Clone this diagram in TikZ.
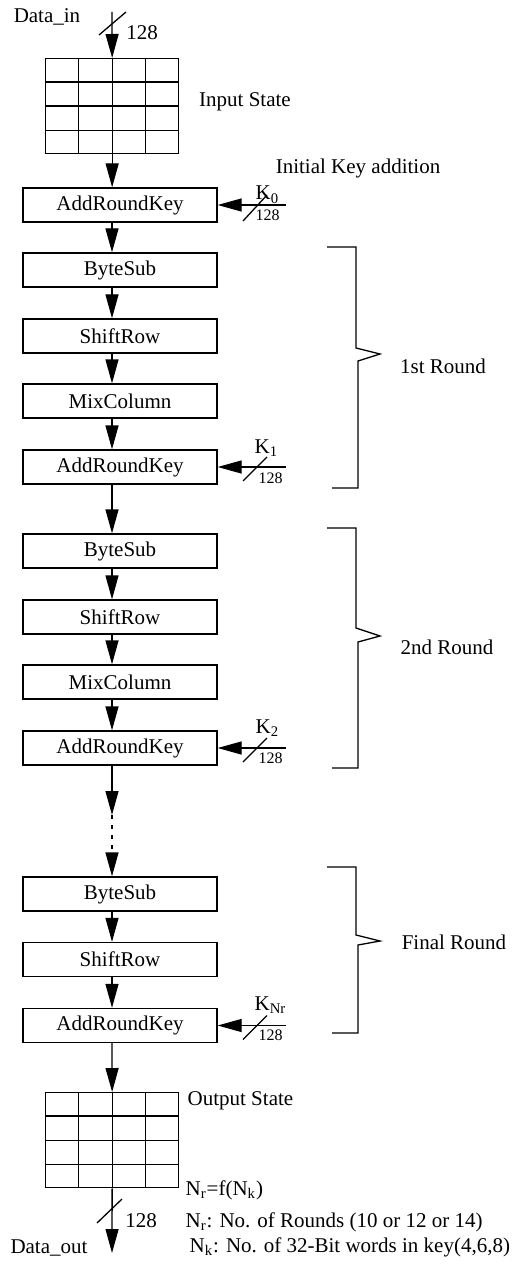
\documentclass[tikz,border=0pt]{standalone}
\usepackage{fontspec}
\setmainfont{Liberation Serif}
\usetikzlibrary{arrows.meta,calc}
\begin{document}
\begin{tikzpicture}[x=0.5pt,y=-0.5pt, line width=0.65pt,
  box/.style={draw, minimum width=97pt, minimum height=17pt, inner sep=0pt, font=\fontsize{10.5}{12}\selectfont},
  gridbox/.style={draw, minimum width=66.5pt, minimum height=47.5pt, inner sep=0pt},
  arr/.style={-{Triangle[length=12pt,width=6.5pt]}},
  lbl/.style={font=\fontsize{10.5}{12}\selectfont, inner sep=0pt},
  small/.style={font=\fontsize{8}{9}\selectfont, inner sep=0pt}]
\useasboundingbox (0,0) rectangle (527,1267);
\coordinate (axis) at (112,0);

% input
\node[lbl] (din) at (47,17) {Data\_in};
\coordinate (inTop) at (112,12);
\node[gridbox, anchor=north west] (inS) at (45,58) {};
\foreach \f in {0.25,0.5,0.75} {
  \draw ($(inS.north west)!\f!(inS.north east)$) -- ($(inS.south west)!\f!(inS.south east)$);
  \draw ($(inS.north west)!\f!(inS.south west)$) -- ($(inS.north east)!\f!(inS.south east)$);
}
\draw[arr] (inTop) -- (inS.north);
\draw (99,35) -- (126,12);
\node[lbl] (n128a) at (142,33) {128};
\node[lbl] (inlbl) at (245,102) {Input State};

% boxes
\node[box] (ark0) at (120,205) {AddRoundKey};
\node[box] (bs1) at (120,270) {ByteSub};
\node[box] (sr1) at (120,336) {ShiftRow};
\node[box] (mc1) at (120,401) {MixColumn};
\node[box] (ark1) at (120,467) {AddRoundKey};
\node[box] (bs2) at (120,551) {ByteSub};
\node[box] (sr2) at (120,617) {ShiftRow};
\node[box] (mc2) at (120,682) {MixColumn};
\node[box] (ark2) at (120,748) {AddRoundKey};
\node[box] (bs3) at (120,894) {ByteSub};
\node[box] (sr3) at (120,959.5) {ShiftRow};
\node[box] (ark3) at (120,1025.5) {AddRoundKey};

% vertical arrows
\draw[arr] (inS.south) -- (ark0.north -| inS.south);
\draw[arr] (ark0.south -| axis) -- (bs1.north -| axis);
\draw[arr] (bs1.south -| axis) -- (sr1.north -| axis);
\draw[arr] (sr1.south -| axis) -- (mc1.north -| axis);
\draw[arr] (mc1.south -| axis) -- (ark1.north -| axis);
\draw[arr] (ark1.south -| axis) -- (bs2.north -| axis);
\draw[arr] (bs2.south -| axis) -- (sr2.north -| axis);
\draw[arr] (sr2.south -| axis) -- (mc2.north -| axis);
\draw[arr] (mc2.south -| axis) -- (ark2.north -| axis);
\coordinate (d1) at (112,815);
\coordinate (d2) at (112,853);
\draw[arr] (ark2.south -| axis) -- (d1);
\draw[dash pattern=on 2pt off 3pt] (d1) -- (d2);
\draw[arr] (d2) -- (bs3.north -| axis);
\draw[arr] (bs3.south -| axis) -- (sr3.north -| axis);
\draw[arr] (sr3.south -| axis) -- (ark3.north -| axis);

% key inputs
\node[lbl] (ika) at (358,168) {Initial Key addition};
\coordinate (k0) at (286,205);
\draw[arr] (k0) -- (ark0.east);
\draw ($(k0)+(-43,16)$) -- ($(k0)+(-19,-10)$);
\node[lbl, anchor=base west] (k0l) at (255,200) {K\textsubscript{0}};
\node[small, anchor=base west] (k0n) at (255,221) {128};

\coordinate (k1) at (286,467);
\draw[arr] (k1) -- (ark1.east);
\draw ($(k1)+(-43,14)$) -- ($(k1)+(-19,-10)$);
\node[lbl, anchor=base west] (k1l) at (254,453) {K\textsubscript{1}};
\node[small, anchor=base west] (k1n) at (258,483) {128};

\coordinate (k2) at (286,748);
\draw[arr] (k2) -- (ark2.east);
\draw ($(k2)+(-43,14)$) -- ($(k2)+(-19,-10)$);
\node[lbl, anchor=base west] (k2l) at (255,733) {K\textsubscript{2}};
\node[small, anchor=base west] (k2n) at (258,763) {128};

\coordinate (k3) at (286,1025.5);
\draw[arr] (k3) -- (ark3.east);
\draw ($(k3)+(-43,14)$) -- ($(k3)+(-19,-10)$);
\node[lbl, anchor=base west] (k3l) at (254,1010) {K\textsubscript{Nr}};
\node[small, anchor=base west] (k3n) at (258,1040) {128};

% brackets
\draw (327,247) -- (356,247) -- (356,348) -- (380,354) -- (358,361) -- (358,488) -- (332,488);
\node[lbl] (r1) at (443,366) {1st Round};
\draw (327,528) -- (356,528) -- (356,628) -- (380,636) -- (358,642) -- (358,768) -- (332,768);
\node[lbl] (r2) at (447,647) {2nd Round};
\draw (327,867) -- (356,867) -- (356,935) -- (380,941) -- (358,945) -- (358,1033) -- (332,1033);
\node[lbl] (r3) at (454,942) {Final Round};

% output
\node[gridbox, anchor=north west] (outS) at (45,1092) {};
\foreach \f in {0.25,0.5,0.75} {
  \draw ($(outS.north west)!\f!(outS.north east)$) -- ($(outS.south west)!\f!(outS.south east)$);
  \draw ($(outS.north west)!\f!(outS.south west)$) -- ($(outS.north east)!\f!(outS.south east)$);
}
\draw[arr] (ark3.south -| axis) -- (outS.north);
\coordinate (dout) at (112,1253);
\draw[arr] (outS.south) -- (dout);
\draw (97,1223) -- (122,1199);
\node[lbl, anchor=base] (n128b) at (141,1227) {128};
\node[lbl, anchor=base] (doutl) at (49,1253) {Data\_out};
\node[lbl, anchor=base west] (outl) at (187,1105) {Output State};
\node[lbl, anchor=base west] (nr1) at (185,1195) {N\textsubscript{r}=f(N\textsubscript{k})};
\node[lbl, anchor=base west] (nr2) at (185,1227) {N\textsubscript{r}: No. of Rounds (10 or 12 or 14)};
\node[lbl, anchor=base west] (nk) at (189,1252) {N\textsubscript{k}: No. of 32-Bit words in key(4,6,8)};
\end{tikzpicture}
\end{document}
